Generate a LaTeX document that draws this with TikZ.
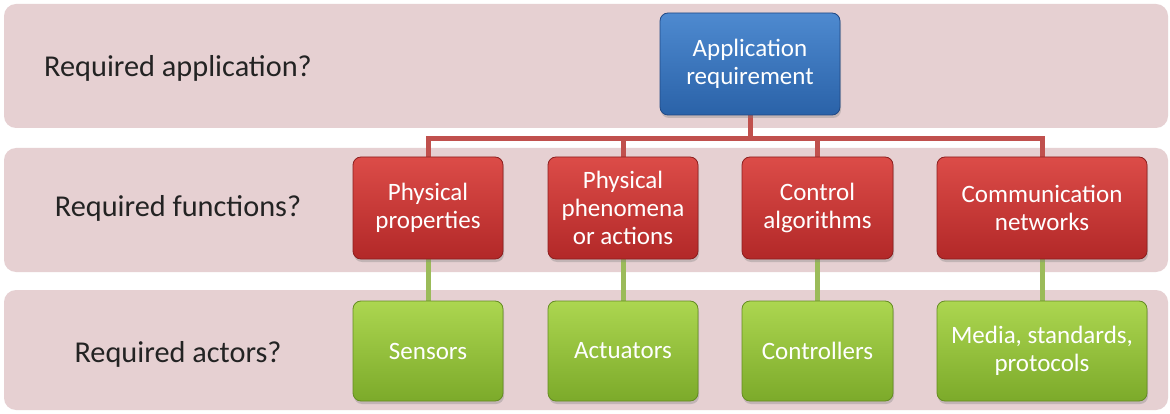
\documentclass[tikz,border=0pt]{standalone}
\usepackage{fontspec}
\setmainfont{Carlito}
\usetikzlibrary{shadows,backgrounds}
\definecolor{bandpink}{RGB}{230,208,210}
\definecolor{bluetop}{RGB}{78,138,208}
\definecolor{bluebot}{RGB}{42,98,168}
\definecolor{blueedge}{RGB}{32,72,132}
\definecolor{redtop}{RGB}{220,76,72}
\definecolor{redbot}{RGB}{178,40,40}
\definecolor{rededge}{RGB}{140,30,30}
\definecolor{greentop}{RGB}{172,214,80}
\definecolor{greenbot}{RGB}{124,170,42}
\definecolor{greenedge}{RGB}{100,140,34}
\definecolor{redline}{RGB}{192,80,77}
\definecolor{greenline}{RGB}{155,187,89}
\definecolor{labeltext}{RGB}{35,35,35}
\newcommand\bxfont{\fontsize{25}{28}\selectfont}
\newcommand\lblfont{\fontsize{30.3}{36}\selectfont}
\begin{document}
\begin{tikzpicture}[x=1pt,y=-1pt,
  band/.style={fill=bandpink, draw=none, rounded corners=12pt},
  boxbase/.style={rounded corners=8pt, line width=0.8pt, text=white, font=\bxfont,
    align=center, inner sep=0pt, minimum height=102pt,
    drop shadow={shadow xshift=1pt, shadow yshift=-3pt, opacity=0.35}},
  bluebox/.style={boxbase, draw=blueedge, top color=bluetop, bottom color=bluebot},
  redbox/.style={boxbase, draw=rededge, top color=redtop, bottom color=redbot},
  greenbox/.style={boxbase, draw=greenedge, top color=greentop, bottom color=greenbot, minimum height=100pt},
  lbl/.style={font=\lblfont, text=labeltext, anchor=base, inner sep=0pt},
  redconn/.style={draw=redline, line width=5pt},
  greenconn/.style={draw=greenline, line width=5pt}]
\useasboundingbox (0,0) rectangle (1170,414);
% labels
\node[lbl] (l1) at (178,77) {Required application?};
\node[lbl] (l2) at (178,217) {Required functions?};
\node[lbl] (l3) at (178,362) {Required actors?};
% boxes
\node[bluebox, minimum width=180pt] (app) at (750,64) {Application\\requirement};
\node[redbox, minimum width=150pt] (r1) at (428,208) {Physical\\properties};
\node[redbox, minimum width=150pt] (r2) at (623,208) {Physical\\phenomena\\or actions};
\node[redbox, minimum width=151pt] (r3) at (817.5,208) {Control\\algorithms};
\node[redbox, minimum width=210pt] (r4) at (1042,208) {Communication\\networks};
\node[greenbox, minimum width=150pt] (g1) at (428,351) {Sensors};
\node[greenbox, minimum width=150pt] (g2) at (623,351) {Actuators};
\node[greenbox, minimum width=151pt] (g3) at (817.5,351) {Controllers};
\node[greenbox, minimum width=210pt] (g4) at (1042,351) {Media, standards,\\protocols};
\begin{scope}[on background layer]
  \fill[white] (0,0) rectangle (1170,414);
  % bands
  \fill[band] (4,4) rectangle (1168,128);
  \fill[band] (4,148) rectangle (1168,272);
  \fill[band] (4,290) rectangle (1168,410);
  % connectors
  \draw[redconn] (app.south) -- ++(0,23) coordinate (bus);
  \draw[redconn] (bus) -| (r1.north);
  \draw[redconn] (bus) -| (r2.north);
  \draw[redconn] (bus) -| (r3.north);
  \draw[redconn] (bus) -| (r4.north);
  \draw[greenconn] (r1.south) -- (g1.north);
  \draw[greenconn] (r2.south) -- (g2.north);
  \draw[greenconn] (r3.south) -- (g3.north);
  \draw[greenconn] (r4.south) -- (g4.north);
\end{scope}
\end{tikzpicture}
\end{document}
